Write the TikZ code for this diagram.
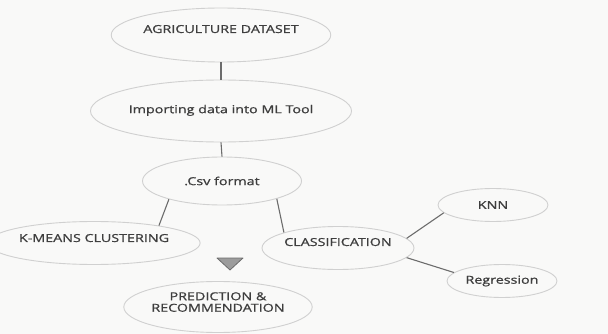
\documentclass[tikz,border=0pt]{standalone}
\usepackage{fontspec}
\setmainfont[FakeStretch=1.30,FakeBold=0.9]{Open Sans}
\usetikzlibrary{shapes.geometric}
\definecolor{bgc}{HTML}{F9F9F8}
\definecolor{rim}{HTML}{D0D0D0}
\definecolor{txt}{HTML}{3E3E3E}
\definecolor{wire}{HTML}{6C6C6C}
\definecolor{tri}{HTML}{9C9C9C}
\tikzset{
  oval/.style={ellipse, draw=rim, line width=0.9pt, inner sep=0pt, text=txt,
    font=\fontsize{11}{13}\selectfont, align=center},
  link/.style={draw=wire, line width=1.1pt},
}
\begin{document}
\begin{tikzpicture}[x=1pt,y=-1pt]
\fill[bgc] (0,0) rectangle (608,334);
\useasboundingbox (0,0) rectangle (608,334);
\node[oval, minimum width=206pt, minimum height=54pt, text depth=12pt] (agri) at (221,35) {AGRICULTURE DATASET};
\node[oval, minimum width=215pt, minimum height=62pt, text depth=4pt] (imp) at (221,111) {Importing data into ML Tool};
\node[oval, minimum width=159pt, minimum height=48pt] (csv) at (222,181) {.Csv format};
\node[oval, minimum width=176pt, minimum height=43pt, text depth=10pt] (km) at (94,243) {K-MEANS CLUSTERING};
\node[oval, minimum width=149pt, minimum height=43pt, text depth=12pt] (cls) at (338,248) {CLASSIFICATION};
\node[oval, minimum width=110pt, minimum height=33pt] (knn) at (493,205) {KNN};
\node[oval, minimum width=110pt, minimum height=33pt] (reg) at (502,281) {Regression};
\node[oval, minimum width=184pt, minimum height=51pt, text depth=10pt] (pred) at (218,307) {PREDICTION \&\\[-1.5pt]RECOMMENDATION};
\coordinate (ta) at (217,258);
\coordinate (tb) at (243,258);
\coordinate (tc) at (230,270);
\filldraw[fill=tri, draw=wire, line width=0.8pt, line join=round] (ta) -- (tb) -- (tc) -- cycle;
\draw[link] (agri.south) -- (imp.north);
\draw[link] (imp.south) -- (csv.north);
\draw[link] (csv.199) -- (km.15);
\draw[link] (csv.342) -- (cls.164);
\draw[link] (cls.8) -- (knn.189);
\draw[link] (cls.352) -- (reg.170);
\end{tikzpicture}
\end{document}
